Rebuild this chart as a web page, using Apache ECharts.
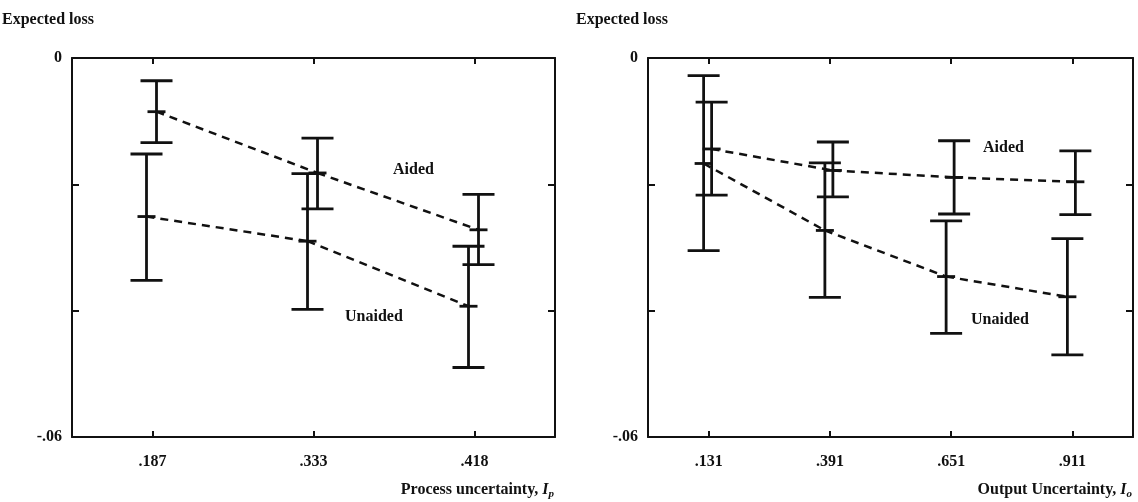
<!DOCTYPE html>
<html><head><meta charset="utf-8">
<script src="https://cdn.jsdelivr.net/npm/echarts@6/dist/echarts.min.js"></script>
<style>html,body{margin:0;padding:0;background:#fff}#c{width:1138px;height:502px}</style>
</head><body><div id="c"></div>
<script>
// ---- data ----
const leftCats = ['.187', '.333', '.418'];
const leftAidedMean = [-0.0085, -0.0182, -0.0272];
const leftAidedHigh = [-0.0036, -0.0127, -0.0216];
const leftAidedLow = [-0.0134, -0.0239, -0.0327];
const leftUnaidedMean = [-0.0251, -0.0290, -0.0393];
const leftUnaidedHigh = [-0.0152, -0.0183, -0.0298];
const leftUnaidedLow = [-0.0352, -0.0398, -0.0490];

const rightCats = ['.131', '.391', '.651', '.911'];
const rightAidedMean = [-0.0144, -0.0178, -0.0189, -0.0196];
const rightAidedHigh = [-0.0070, -0.0133, -0.0131, -0.0147];
const rightAidedLow = [-0.0217, -0.0220, -0.0247, -0.0248];
const rightUnaidedMean = [-0.0167, -0.0273, -0.0346, -0.0378];
const rightUnaidedHigh = [-0.0028, -0.0166, -0.0258, -0.0286];
const rightUnaidedLow = [-0.0305, -0.0379, -0.0436, -0.0470];

const yMin = -0.06, yMax = 0, yStep = 0.02;
const yLabelText = { '0': '0', '-0.06': '-.06' };
const yTitle = 'Expected loss';
const leftXTitle = 'Process uncertainty, ';
const leftXSub = 'p';
const rightXTitle = 'Output Uncertainty, ';
const rightXSub = 'o';
const groupLabels = ['Aided', 'Unaided'];

// ---- styling ----
const FONT = "'Liberation Serif', 'DejaVu Serif', serif";
const FS = 16;
const INK = '#111';

function rows(mean, low, high) {
  return mean.map((m, i) => [i, m, low[i], high[i]]);
}

function errSeries(name, xi, yi, mean, low, high, dx) {
  return {
    type: 'custom', name: name, xAxisIndex: xi, yAxisIndex: yi,
    data: rows(mean, low, high),
    encode: { x: 0, y: [1, 2, 3] },
    clip: false,
    renderItem: function (params, api) {
      const i = api.value(0);
      const pm = api.coord([i, api.value(1)]);
      const pl = api.coord([i, api.value(2)]);
      const ph = api.coord([i, api.value(3)]);
      const x = pm[0] + dx;
      const st = { stroke: INK, lineWidth: 2.8 };
      const children = [
        { type: 'line', shape: { x1: x, y1: ph[1], x2: x, y2: pl[1] }, style: st },
        { type: 'line', shape: { x1: x - 16, y1: ph[1], x2: x + 16, y2: ph[1] }, style: st },
        { type: 'line', shape: { x1: x - 16, y1: pl[1], x2: x + 16, y2: pl[1] }, style: st },
        { type: 'line', shape: { x1: x - 9, y1: pm[1], x2: x + 9, y2: pm[1] }, style: st }
      ];
      if (i < mean.length - 1) {
        const pn = api.coord([i + 1, mean[i + 1]]);
        children.push({ type: 'line', shape: { x1: x, y1: pm[1], x2: pn[0] + dx, y2: pn[1] },
          style: { stroke: INK, lineWidth: 2.5, lineDash: [8, 6] } });
      }
      return { type: 'group', children: children };
    }
  };
}

const axisLine = { show: true, onZero: false, lineStyle: { color: INK, width: 2 } };
const labelStyle = { color: INK, fontFamily: FONT, fontWeight: 'bold', fontSize: FS };

function xAxes(cats, grid) {
  return [
    { type: 'category', gridIndex: grid, data: cats, boundaryGap: true, position: 'bottom',
      axisLine: axisLine, axisTick: { show: true, inside: true, alignWithLabel: true, length: 6, lineStyle: { color: INK, width: 2 } },
      axisLabel: Object.assign({ margin: 17 }, labelStyle), splitLine: { show: false } },
    { type: 'category', gridIndex: grid, data: cats, boundaryGap: true, position: 'top',
      axisLine: axisLine, axisTick: { show: true, inside: true, alignWithLabel: true, length: 6, lineStyle: { color: INK, width: 2 } },
      axisLabel: { show: false }, splitLine: { show: false } }
  ];
}
function yAxes(grid) {
  const base = { type: 'value', gridIndex: grid, min: yMin, max: yMax, interval: yStep,
    axisLine: axisLine, axisTick: { show: true, inside: true, length: 7, lineStyle: { color: INK, width: 2 } },
    splitLine: { show: false } };
  return [
    Object.assign({}, base, { position: 'left',
      axisLabel: Object.assign({ margin: 10, formatter: v => yLabelText[String(+v.toFixed(2))] || '' }, labelStyle) }),
    Object.assign({}, base, { position: 'right', axisLabel: { show: false } })
  ];
}

const chart = echarts.init(document.getElementById('c'), null, { renderer: 'canvas' });
const titleText = { color: INK, fontFamily: FONT, fontWeight: 'bold', fontSize: FS,
  rich: { sub: { fontFamily: FONT, fontWeight: 'bold', fontStyle: 'italic', fontSize: 11, color: INK, verticalAlign: 'bottom', padding: [9, 0, 0, 0] },
          it: { fontFamily: FONT, fontWeight: 'bold', fontStyle: 'italic', fontSize: FS, color: INK } } };
const lab = (t, l, tp) => ({ type: 'text', left: l, top: tp, style: { text: t, font: 'bold ' + FS + 'px ' + FONT, fill: INK } });
chart.setOption({
  animation: false,
  backgroundColor: '#fff',
  grid: [
    { left: 72, right: 583, top: 58, bottom: 65 },
    { left: 648, right: 5, top: 58, bottom: 65 }
  ],
  title: [
    { text: yTitle, left: 2, top: 12, padding: 0, textStyle: titleText },
    { text: yTitle, left: 576, top: 12, padding: 0, textStyle: titleText },
    { text: leftXTitle + '{it|I}{sub|' + leftXSub + '}', right: 584, top: 480, padding: 0, textStyle: titleText },
    { text: rightXTitle + '{it|I}{sub|' + rightXSub + '}', right: 6, top: 480, padding: 0, textStyle: titleText }
  ],
  xAxis: xAxes(leftCats, 0).concat(xAxes(rightCats, 1)),
  yAxis: yAxes(0).concat(yAxes(1)),
  series: [
    errSeries('Aided', 0, 0, leftAidedMean, leftAidedLow, leftAidedHigh, 4),
    errSeries('Unaided', 0, 0, leftUnaidedMean, leftUnaidedLow, leftUnaidedHigh, -6),
    errSeries('Aided', 2, 2, rightAidedMean, rightAidedLow, rightAidedHigh, 3),
    errSeries('Unaided', 2, 2, rightUnaidedMean, rightUnaidedLow, rightUnaidedHigh, -5)
  ],
  graphic: [
    lab(groupLabels[0], 393, 162),
    lab(groupLabels[1], 345, 309),
    lab(groupLabels[0], 983, 140),
    lab(groupLabels[1], 971, 312)
  ]
});
</script>
</body></html>
